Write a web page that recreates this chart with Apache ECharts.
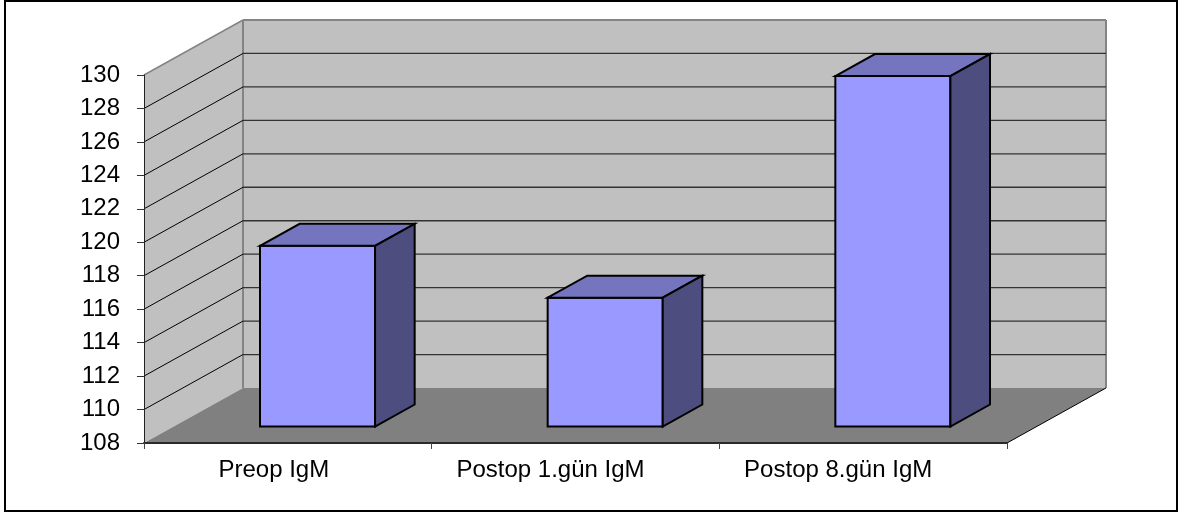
<!DOCTYPE html>
<html>
<head>
<meta charset="utf-8">
<style>
  html, body { margin: 0; padding: 0; background: #fff; }
  #chart { width: 1184px; height: 514px; }
</style>
<script src="https://cdn.jsdelivr.net/npm/echarts@6/dist/echarts.min.js"></script>
</head>
<body>
<div id="chart"></div>
<script>
// IgM levels at each time point
const categories = ['Preop IgM', 'Postop 1.gün IgM', 'Postop 8.gün IgM'];
const igmValues = [118.8, 115.7, 128.95];
const tickValues = [108, 110, 112, 114, 116, 118, 120, 122, 124, 126, 128, 130];

// Oblique projection of the chart's depth axis, in pixels
const DEPTH_X = 99;
const DEPTH_Y = -55;
const BAR_NEAR = 0.3;   // share of the depth where a bar's front face sits
const BAR_FAR = 0.7;    // share of the depth where a bar's back face sits
const BAR_SHARE = 0.4;  // share of a category slot taken by a bar

const yMin = tickValues[0];
const yMax = tickValues[tickValues.length - 1];

const chart = echarts.init(document.getElementById('chart'), null, { renderer: 'canvas' });

const poly = (points, fill, stroke, lineWidth) => ({
  type: 'polygon',
  shape: { points },
  style: { fill, stroke: stroke || null, lineWidth: lineWidth || 0, lineJoin: 'miter' }
});
const segment = (a, b, stroke, lineWidth) => ({
  type: 'line',
  shape: { x1: a[0], y1: a[1], x2: b[0], y2: b[1] },
  style: { stroke, lineWidth }
});
const shift = (p, d) => [p[0] + DEPTH_X * d, p[1] + DEPTH_Y * d];

// Left and right edge of the plot in pixels, at a given value
function plotEdges(api, value) {
  const n = categories.length;
  const slot = api.size([1, 0])[0];
  const first = api.coord([0, value]);
  const left = [first[0] - slot / 2, first[1]];
  const right = [left[0] + slot * n, first[1]];
  return [left, right];
}

// Side wall, back wall and floor
function renderRoom(params, api) {
  const [bl, br] = plotEdges(api, yMin);
  const [tl, tr] = plotEdges(api, yMax);
  const edge = '#848484';
  return {
    type: 'group',
    children: [
      poly([bl, tl, shift(tl, 1), shift(bl, 1)], '#c0c0c0'),
      poly([shift(bl, 1), shift(tl, 1), shift(tr, 1), shift(br, 1)], '#c0c0c0'),
      poly([bl, shift(bl, 1), shift(br, 1), br], '#808080'),
      segment(tl, shift(tl, 1), edge, 1.5),
      segment(shift(tl, 1), shift(tr, 1), edge, 2),
      segment(shift(tl, 1), shift(bl, 1), edge, 2),
      segment(shift(tr, 1), shift(br, 1), edge, 2),
      segment(br, shift(br, 1), '#000', 1)
    ]
  };
}

// One gridline per tick, running along the side wall and the back wall
function renderGridline(params, api) {
  const value = api.value(1);
  const [l, r] = plotEdges(api, value);
  return {
    type: 'group',
    children: [
      segment(l, shift(l, 1), '#000', 1),
      segment(shift(l, 1), shift(r, 1), '#333', 1.3)
    ]
  };
}

// A box with front, top and side faces
function renderBar(params, api) {
  const idx = api.value(0);
  const val = api.value(1);
  const slot = api.size([1, 0])[0];
  const width = slot * BAR_SHARE;
  const top = api.coord([idx, val]);
  const base = api.coord([idx, yMin]);
  const x0 = top[0] - width / 2;
  const x1 = top[0] + width / 2;
  const near = p => shift(p, BAR_NEAR);
  const far = p => shift(p, BAR_FAR);
  const tlp = [x0, top[1]], trp = [x1, top[1]];
  const blp = [x0, base[1]], brp = [x1, base[1]];
  const stroke = '#000';
  const lw = 2;
  return {
    type: 'group',
    children: [
      poly([near(blp), near(tlp), near(trp), near(brp)], '#9999ff', stroke, lw),
      poly([near(tlp), far(tlp), far(trp), near(trp)], '#7474bf', stroke, lw),
      poly([near(brp), near(trp), far(trp), far(brp)], '#4d4d80', stroke, lw)
    ]
  };
}

chart.setOption({
  animation: false,
  backgroundColor: '#ffffff',
  grid: { left: 144, top: 75, width: 863, height: 368 },
  graphic: [{
    type: 'rect',
    silent: true,
    z: -10,
    shape: { x: 5, y: 1, width: 1172, height: 510 },
    style: { fill: '#ffffff', stroke: '#000000', lineWidth: 2 }
  }],
  xAxis: {
    type: 'category',
    data: categories,
    z: 5,
    axisLine: { show: true, lineStyle: { color: '#2a2a2a', width: 2 } },
    axisTick: { show: true, alignWithLabel: false, length: 6, lineStyle: { color: '#444', width: 1 } },
    axisLabel: {
      show: true,
      interval: 0,
      margin: 15,
      color: '#000',
      fontFamily: '"Liberation Sans", Arial, sans-serif',
      fontSize: 24,
      // Labels sit left of their slot centres
      formatter: (name, i) => `{c${i}|${name}}`,
      rich: {
        c0: { padding: [0, 28, 0, 0] },
        c1: { padding: [0, 50, 0, 0] },
        c2: { padding: [0, 50, 0, 0] }
      }
    },
    splitLine: { show: false }
  },
  yAxis: {
    type: 'value',
    min: yMin,
    max: yMax,
    interval: 2,
    z: 5,
    axisLine: { show: true, lineStyle: { color: '#222', width: 1 } },
    axisTick: { show: true, length: 7, lineStyle: { color: '#333', width: 1 } },
    axisLabel: {
      margin: 24,
      color: '#000',
      fontFamily: '"Liberation Sans", Arial, sans-serif',
      fontSize: 24
    },
    splitLine: { show: false }
  },
  series: [
    {
      name: 'room',
      type: 'custom',
      silent: true,
      z: 1,
      renderItem: renderRoom,
      data: [[0, yMin]],
      encode: { x: 0, y: 1 }
    },
    {
      name: 'gridlines',
      type: 'custom',
      silent: true,
      z: 2,
      renderItem: renderGridline,
      data: tickValues.slice(1, -1).map(t => [0, t]),
      encode: { x: 0, y: 1 }
    },
    {
      name: 'IgM',
      type: 'custom',
      z: 3,
      renderItem: renderBar,
      data: igmValues.map((v, i) => [i, v]),
      encode: { x: 0, y: 1 }
    }
  ]
});
</script>
</body>
</html>
